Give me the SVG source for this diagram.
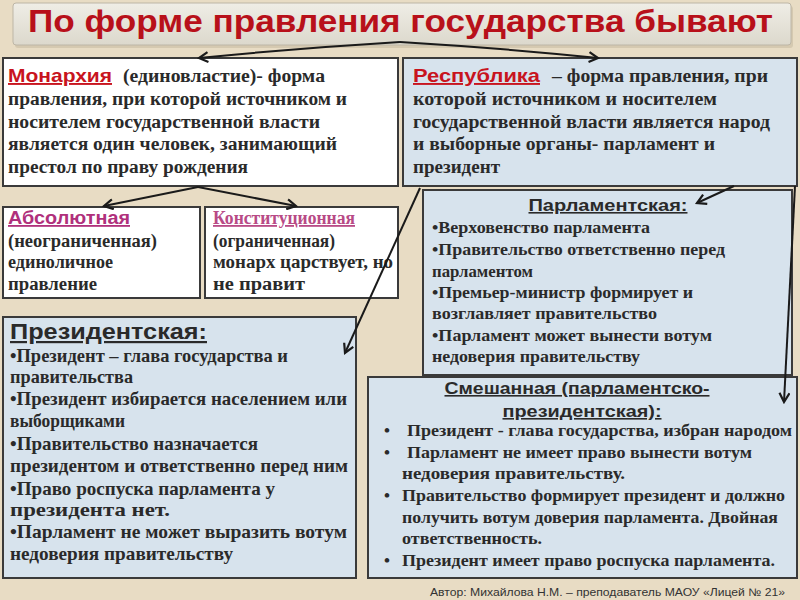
<svg xmlns="http://www.w3.org/2000/svg" width="800" height="600" viewBox="0 0 800 600">
<defs>
<style>
.bg{fill:#e8dcc4}
.box{stroke:#3a3a3a;stroke-width:2}
.w{fill:#ffffff}
.b{fill:#d7e3ed}
.t{font-family:"Liberation Serif","Times New Roman",serif;font-weight:bold;font-size:18px;fill:#2a2a2a}
.s{font-size:17px}
.tp{font-family:"Liberation Serif","Times New Roman",serif;font-weight:bold;font-size:19px;fill:#2a2a2a}
.h{font-family:"Liberation Sans",Arial,sans-serif;font-weight:bold;fill:#2a2a2a;text-decoration:underline}
.red{font-family:"Liberation Sans",Arial,sans-serif;font-weight:bold;font-size:19px;fill:#c8141e;text-decoration:underline}
.mag{font-family:"Liberation Sans",Arial,sans-serif;font-weight:bold;font-size:18px;fill:#b0307c;text-decoration:underline}
.mags{font-family:"Liberation Serif","Times New Roman",serif;font-weight:bold;font-size:18px;fill:#b84a86;text-decoration:underline}
.c{fill:none;stroke:#1a1a1a;stroke-width:2}
</style>
<marker id="ah" markerWidth="12" markerHeight="12" refX="10" refY="6" orient="auto" markerUnits="userSpaceOnUse">
<polyline points="1,1 10,6 1,11" fill="none" stroke="#1a1a1a" stroke-width="2.2"/>
</marker>
<linearGradient id="tg" x1="0" y1="0" x2="0" y2="1">
<stop offset="0" stop-color="#efede6"/>
<stop offset="1" stop-color="#dcd8cc"/>
</linearGradient>
</defs>
<rect class="bg" x="0" y="0" width="800" height="600"/>

<g id="title">
<rect x="13" y="4" width="778" height="42" rx="3" fill="#c8bca4" opacity="0.6" transform="translate(2,2)"/>
<rect x="13" y="3" width="778" height="42" rx="3" fill="url(#tg)" stroke="#bdb6a6" stroke-width="1"/>
<text x="28" y="32" font-family="Liberation Sans,Arial,sans-serif" font-weight="bold" font-size="31" fill="#b8101a" textLength="745" lengthAdjust="spacingAndGlyphs">По форме правления государства бывают</text>
</g>

<g id="monarchy">
<rect class="box w" x="3" y="58" width="395" height="128"/>
<text class="red" x="8" y="82" textLength="104" lengthAdjust="spacingAndGlyphs">Монархия</text>
<text class="t" x="123" y="82" textLength="202" lengthAdjust="spacingAndGlyphs">(единовластие)- форма</text>
<text class="t" x="8" y="105" textLength="339" lengthAdjust="spacingAndGlyphs">правления, при которой источником и</text>
<text class="t" x="8" y="128" textLength="312" lengthAdjust="spacingAndGlyphs">носителем государственной власти</text>
<text class="t" x="8" y="150" textLength="329" lengthAdjust="spacingAndGlyphs">является один человек, занимающий</text>
<text class="t" x="8" y="173" textLength="240" lengthAdjust="spacingAndGlyphs">престол по праву рождения</text>
</g>

<g id="republic">
<rect class="box b" x="403" y="58" width="394" height="128"/>
<text class="red" x="413" y="82" textLength="127" lengthAdjust="spacingAndGlyphs">Республика</text>
<text class="t" x="552" y="82" textLength="216" lengthAdjust="spacingAndGlyphs">– форма правления, при</text>
<text class="t" x="413" y="105" textLength="304" lengthAdjust="spacingAndGlyphs">которой источником и носителем</text>
<text class="t" x="413" y="128" textLength="357" lengthAdjust="spacingAndGlyphs">государственной власти является народ</text>
<text class="t" x="413" y="150" textLength="302" lengthAdjust="spacingAndGlyphs">и выборные органы- парламент и</text>
<text class="t" x="413" y="173" textLength="87" lengthAdjust="spacingAndGlyphs">президент</text>
</g>

<g id="absolute">
<rect class="box w" x="3" y="207" width="197" height="91"/>
<text class="mag" x="8" y="224" textLength="122" lengthAdjust="spacingAndGlyphs">Абсолютная</text>
<text class="t" x="8" y="247" textLength="149" lengthAdjust="spacingAndGlyphs">(неограниченная)</text>
<text class="t" x="8" y="268" textLength="105" lengthAdjust="spacingAndGlyphs">единоличное</text>
<text class="t" x="8" y="290" textLength="89" lengthAdjust="spacingAndGlyphs">правление</text>
</g>

<g id="constitutional">
<rect class="box w" x="205" y="207" width="193" height="91"/>
<text class="mags" x="213" y="224" textLength="142" lengthAdjust="spacingAndGlyphs">Конституционная</text>
<text class="t" x="213" y="247" textLength="122" lengthAdjust="spacingAndGlyphs">(ограниченная)</text>
<text class="t" x="213" y="268" textLength="180" lengthAdjust="spacingAndGlyphs">монарх царствует, но</text>
<text class="t" x="213" y="290" textLength="92" lengthAdjust="spacingAndGlyphs">не правит</text>
</g>

<g id="parliamentary">
<rect class="box b" x="423" y="190" width="369" height="185"/>
<text class="h" x="608" y="211" font-size="16" text-anchor="middle" textLength="159" lengthAdjust="spacingAndGlyphs">Парламентская:</text>
<text class="t s" x="432" y="233" textLength="218" lengthAdjust="spacingAndGlyphs">•Верховенство парламента</text>
<text class="t s" x="432" y="255" textLength="293" lengthAdjust="spacingAndGlyphs">•Правительство ответственно перед</text>
<text class="t s" x="432" y="277" textLength="101" lengthAdjust="spacingAndGlyphs">парламентом</text>
<text class="t s" x="432" y="298" textLength="261" lengthAdjust="spacingAndGlyphs">•Премьер-министр формирует и</text>
<text class="t s" x="432" y="319" textLength="225" lengthAdjust="spacingAndGlyphs">возглавляет правительство</text>
<text class="t s" x="432" y="341" textLength="280" lengthAdjust="spacingAndGlyphs">•Парламент может вынести вотум</text>
<text class="t s" x="432" y="362" textLength="208" lengthAdjust="spacingAndGlyphs">недоверия правительству</text>
</g>

<g id="presidential">
<rect class="box b" x="3" y="317" width="353" height="261"/>
<text class="h" x="10" y="339" font-size="22" textLength="197" lengthAdjust="spacingAndGlyphs">Президентская:</text>
<text class="tp" x="10" y="362" textLength="278" lengthAdjust="spacingAndGlyphs">•Президент – глава государства и</text>
<text class="tp" x="10" y="383" textLength="123" lengthAdjust="spacingAndGlyphs">правительства</text>
<text class="tp" x="10" y="405" textLength="337" lengthAdjust="spacingAndGlyphs">•Президент избирается населением или</text>
<text class="tp" x="10" y="427" textLength="115" lengthAdjust="spacingAndGlyphs">выборщиками</text>
<text class="tp" x="10" y="450" textLength="248" lengthAdjust="spacingAndGlyphs">•Правительство назначается</text>
<text class="tp" x="10" y="472" textLength="338" lengthAdjust="spacingAndGlyphs">президентом и ответственно перед ним</text>
<text class="tp" x="10" y="495" textLength="265" lengthAdjust="spacingAndGlyphs">•Право роспуска парламента у</text>
<text class="tp" x="10" y="516" textLength="160" lengthAdjust="spacingAndGlyphs">президента нет.</text>
<text class="tp" x="10" y="538" textLength="337" lengthAdjust="spacingAndGlyphs">•Парламент не может выразить вотум</text>
<text class="tp" x="10" y="560" textLength="223" lengthAdjust="spacingAndGlyphs">недоверия правительству</text>
</g>

<g id="mixed">
<rect class="box b" x="368" y="377" width="429" height="201"/>
<text class="h" x="577" y="394" font-size="16" text-anchor="middle" textLength="265" lengthAdjust="spacingAndGlyphs">Смешанная (парламентско-</text>
<text class="h" x="582" y="417" font-size="16" text-anchor="middle" textLength="159" lengthAdjust="spacingAndGlyphs">президентская):</text>
<text class="t s" x="384" y="436">•</text>
<text class="t s" x="407" y="436" textLength="385" lengthAdjust="spacingAndGlyphs">Президент - глава государства, избран народом</text>
<text class="t s" x="384" y="458">•</text>
<text class="t s" x="407" y="458" textLength="345" lengthAdjust="spacingAndGlyphs">Парламент не имеет право вынести вотум</text>
<text class="t s" x="402" y="479" textLength="223" lengthAdjust="spacingAndGlyphs">недоверия правительству.</text>
<text class="t s" x="384" y="501">•</text>
<text class="t s" x="402" y="501" textLength="383" lengthAdjust="spacingAndGlyphs">Правительство формирует президент и должно</text>
<text class="t s" x="402" y="523" textLength="376" lengthAdjust="spacingAndGlyphs">получить вотум доверия парламента. Двойная</text>
<text class="t s" x="402" y="544" textLength="140" lengthAdjust="spacingAndGlyphs">ответственность.</text>
<text class="t s" x="384" y="566">•</text>
<text class="t s" x="402" y="566" textLength="373" lengthAdjust="spacingAndGlyphs">Президент имеет право роспуска парламента.</text>
</g>

<g id="footer">
<text x="430" y="596" font-family="Liberation Sans,Arial,sans-serif" font-size="11" fill="#333" textLength="355" lengthAdjust="spacingAndGlyphs">Автор: Михайлова Н.М. – преподаватель МАОУ «Лицей № 21»</text>
</g>

<g id="connectors">
<path class="c" d="M400,42 Q300,48 199,58" marker-end="url(#ah)"/>
<path class="c" d="M400,42 Q500,48 598,58" marker-end="url(#ah)"/>
<path class="c" d="M198,187 L104,206" marker-end="url(#ah)"/>
<path class="c" d="M198,187 L296,206" marker-end="url(#ah)"/>
<path class="c" d="M420,188 L345,353" marker-end="url(#ah)"/>
<path class="c" d="M734,186 L697,203" marker-end="url(#ah)"/>
<path class="c" d="M795,186 L784,402" marker-end="url(#ah)"/>
</g>
</svg>
